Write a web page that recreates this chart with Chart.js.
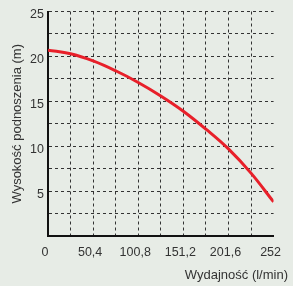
<!DOCTYPE html>
<html>
<head>
<meta charset="utf-8">
<script src="https://cdn.jsdelivr.net/npm/chart.js@4"></script>
<style>
    html, body { margin: 0; padding: 0; background: #e7ece6; }
    #wrap { width: 293px; height: 286px; }
</style>
</head>
<body>
<div id="wrap"><canvas id="pumpChart" width="293" height="286"></canvas></div>
<script>
// flow (l/min) and head (m)
const flow = [0, 25.2, 50.4, 75.6, 100.8, 126, 151.2, 176.4, 201.6, 226.8, 252];
const head = [20.7, 20.3, 19.5, 18.4, 17.1, 15.6, 13.9, 11.9, 9.7, 7.0, 3.8];

const xTicks = [0, 25.2, 50.4, 75.6, 100.8, 126, 151.2, 176.4, 201.6, 226.8, 252];
const xLabels = ['0', '', '50,4', '', '100,8', '', '151,2', '', '201,6', '', '252'];
const yTicks = [0, 2.5, 5, 7.5, 10, 12.5, 15, 17.5, 20, 22.5, 25];
const yLabels = ['', '', '5', '', '10', '', '15', '', '20', '', '25'];

const textColor = '#333333';
const fontFamily = '"Liberation Sans", Arial, sans-serif';

// x axis title sits right-aligned past the plot edge, so draw it by hand
const xTitlePlugin = {
    id: 'xTitle',
    afterDraw(chart) {
        const ctx = chart.ctx;
        ctx.save();
        ctx.font = '13px ' + fontFamily;
        ctx.fillStyle = textColor;
        ctx.textAlign = 'right';
        ctx.textBaseline = 'middle';
        ctx.fillText('Wydajność (l/min)', 288, 275);
        ctx.restore();
    }
};

const ctx = document.getElementById('pumpChart').getContext('2d');
new Chart(ctx, {
    type: 'line',
    data: {
        datasets: [{
            label: 'H',
            data: flow.map((q, i) => ({ x: q, y: head[i] })),
            borderColor: '#e8202a',
            borderWidth: 3,
            pointRadius: 0,
            tension: 0.4,
            fill: false
        }]
    },
    options: {
        responsive: false,
        animation: false,
        layout: { padding: { left: 0, right: 18, top: 7, bottom: 0 } },
        plugins: { legend: { display: false }, tooltip: { enabled: false } },
        scales: {
            x: {
                type: 'linear',
                min: 0,
                max: 252,
                afterBuildTicks: (scale) => { scale.ticks = xTicks.map(v => ({ value: v })); },
                afterFit: (scale) => { scale.height = 50; },
                ticks: {
                    autoSkip: false,
                    maxRotation: 0,
                    padding: 9,
                    labelOffset: -3,
                    color: textColor,
                    font: { family: fontFamily, size: 12.5 },
                    callback: (value, index) => xLabels[index]
                },
                grid: {
                    drawTicks: false,
                    color: (c) => c.index === xTicks.length - 1 ? 'rgba(0,0,0,0)' : '#333',
                    lineWidth: 1
                },
                border: { display: true, color: '#111', width: 2, dash: [3, 3] }
            },
            y: {
                min: 0,
                max: 25,
                afterBuildTicks: (scale) => { scale.ticks = yTicks.map(v => ({ value: v })); },
                afterFit: (scale) => { scale.width = 48; },
                ticks: {
                    autoSkip: false,
                    padding: 4,
                    labelOffset: 3,
                    color: textColor,
                    font: { family: fontFamily, size: 12.5 },
                    callback: (value, index) => yLabels[index]
                },
                title: {
                    display: true,
                    text: 'Wysokość podnoszenia (m)',
                    color: textColor,
                    font: { family: fontFamily, size: 13 },
                    padding: { top: 10, bottom: 0 }
                },
                grid: {
                    drawTicks: false,
                    color: '#333',
                    lineWidth: 1
                },
                border: { display: true, color: '#111', width: 2, dash: [3, 3] }
            }
        }
    },
    plugins: [xTitlePlugin]
});
</script>
</body>
</html>
